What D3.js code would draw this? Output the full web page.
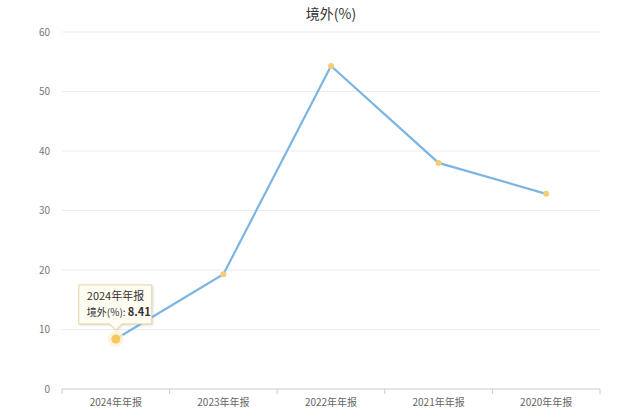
<!DOCTYPE html>
<html><head><meta charset="utf-8">
<script src="https://cdn.jsdelivr.net/npm/d3@7"></script>
<style>
body{margin:0;background:#fff;font-family:"Microsoft YaHei","Noto Sans CJK SC",sans-serif;}
</style></head><body>
<svg id="c" width="640" height="418"></svg>
<script>
const title = "境外(%)";
const categories = ["2024年年报","2023年年报","2022年年报","2021年年报","2020年年报"];
const values = [8.41, 19.3, 54.3, 38.0, 32.8];
const yTicks = [0,10,20,30,40,50,60];
const tipIndex = 0;

const svg = d3.select("#c");
const m = {l:62, r:40, t:32, b:29};
const W = 640, H = 418;
const x = d3.scaleBand().domain(categories).range([m.l, W-m.r]);
const y = d3.scaleLinear().domain([0,60]).range([H-m.b, m.t]);
const font = '"Noto Sans CJK SC", sans-serif';

svg.append("text").attr("x", 331).attr("y", 19).attr("text-anchor","middle")
  .attr("font-family", font).attr("font-size", 14).attr("fill","#333").text(title);

// grid
svg.append("g").selectAll("line").data(yTicks.filter(d=>d>0)).join("line")
  .attr("x1", m.l).attr("x2", W-m.r).attr("y1", d=>y(d)).attr("y2", d=>y(d))
  .attr("stroke","#ececec").attr("stroke-width",1);

// y labels
svg.append("g").selectAll("text").data(yTicks).join("text")
  .attr("x", 50).attr("y", d=>y(d)).attr("dy","0.35em").attr("text-anchor","end")
  .attr("font-family", font).attr("font-size", 10).attr("fill","#777").text(d=>d);

// x axis
const xa = svg.append("g").attr("transform", `translate(0,${y(0)})`);
xa.append("line").attr("x1", m.l).attr("x2", W-m.r).attr("stroke","#ccc");
const bounds = categories.map(c=>x(c)).concat([x(categories[categories.length-1])+x.bandwidth()]);
xa.selectAll("line.t").data(bounds).join("line").attr("class","t")
  .attr("x1", d=>d).attr("x2", d=>d).attr("y1",0).attr("y2",5).attr("stroke","#ccc");
xa.selectAll("text").data(categories).join("text")
  .attr("x", d=>x(d)+x.bandwidth()/2).attr("y", 17).attr("text-anchor","middle")
  .attr("font-family", font).attr("font-size", 10).attr("fill","#666").text(d=>d);

// line
const cx = i => x(categories[i]) + x.bandwidth()/2;
const line = d3.line().x((d,i)=>cx(i)).y(d=>y(d));
svg.append("path").datum(values).attr("d", line).attr("fill","none")
  .attr("stroke","#7cb5e2").attr("stroke-width",2.2);

svg.append("g").selectAll("circle").data(values).join("circle")
  .attr("cx",(d,i)=>cx(i)).attr("cy",d=>y(d)).attr("r",(d,i)=>i===tipIndex?0:3)
  .attr("fill","#f6cd75");

// highlighted point
const hx = cx(tipIndex), hy = y(values[tipIndex]);
svg.append("circle").attr("cx",hx).attr("cy",hy).attr("r",8).attr("fill","#fdf1d4").attr("opacity",0.8);
svg.append("circle").attr("cx",hx).attr("cy",hy).attr("r",4.5).attr("fill","#f6c860");

// tooltip
const tw = 73, th = 39, tx = hx - 37, ty = hy - 54;
const p = `M${tx},${ty} h${tw} v${th} H${hx+6} l-6,6 l-6,-6 H${tx} Z`;
svg.append("path").attr("d",p).attr("fill","#fffcf2").attr("stroke","#e6d3a0").attr("stroke-width",1)
  .style("filter","drop-shadow(1px 1px 1px rgba(0,0,0,0.12))");
svg.append("text").attr("x",tx+8).attr("y",ty+15).attr("font-family",font).attr("font-size",11)
  .attr("fill","#333").text(categories[tipIndex]);
const t2 = svg.append("text").attr("x",tx+8).attr("y",ty+31).attr("font-family",font).attr("font-size",11).attr("fill","#333");
t2.append("tspan").text("境外(%): ").attr("font-size",10);
t2.append("tspan").text(values[tipIndex]).attr("font-weight","bold").attr("font-size",11);
</script></body></html>
